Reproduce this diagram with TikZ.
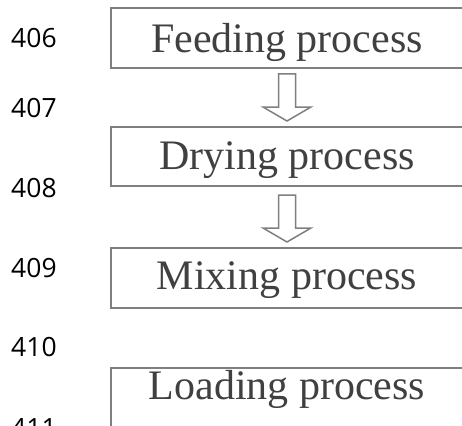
\documentclass[tikz,border=0pt]{standalone}
\usepackage{fontspec}
\setmainfont{Liberation Serif}
\newfontfamily\numfont{Open Sans}
\begin{document}
\begin{tikzpicture}[x=1pt,y=-1pt,
  stagebox/.style={draw=boxgray,line width=1.8pt,minimum width=354pt,minimum height=60pt,inner sep=0pt,anchor=north west},
  stagetext/.style={font=\fontsize{42}{42}\selectfont,text=textgray,anchor=base,inner sep=0pt},
  linenum/.style={font=\numfont\fontsize{26.5}{26.5}\selectfont,text=black,anchor=base west,inner sep=0pt},
  blockarrow/.style={draw=boxgray,line width=1.5pt,fill=white,line join=miter}]
\definecolor{boxgray}{HTML}{7F7F7F}
\definecolor{textgray}{HTML}{404040}
\useasboundingbox (0,0) rectangle (462,425);
% boxes
\node[stagebox,minimum height=60pt] (b1) at (110,7) {};
\node[stagebox,minimum height=59pt] (b2) at (110,126) {};
\node[stagebox,minimum height=60pt] (b3) at (110,247) {};
\node[stagebox,minimum height=60pt] (b4) at (110,367) {};
% texts
\node[stagetext] (t1) at (287,53) {Feeding process};
\node[stagetext] (t2) at (287,169) {Drying process};
\node[stagetext] (t3) at (287,289) {Mixing process};
\node[stagetext] (t4) at (287,399) {Loading process};
% block arrows
\coordinate (a1) at (287,74);
\coordinate (a2) at (287,195);
\foreach \c in {a1,a2}{
  \draw[blockarrow] ([xshift=-8.5pt]\c) -- ([xshift=8.5pt]\c) -- ([xshift=8.5pt,yshift=-33pt]\c)
    -- ([xshift=24pt,yshift=-33pt]\c) -- ([yshift=-47pt]\c) -- ([xshift=-24pt,yshift=-33pt]\c)
    -- ([xshift=-8.5pt,yshift=-33pt]\c) -- cycle;
}
% line numbers
\node[linenum] (n406) at (11,48) {406};
\node[linenum] (n407) at (11,117) {407};
\node[linenum] (n408) at (11,197) {408};
\node[linenum] (n409) at (11,277) {409};
\node[linenum] (n410) at (11,356) {410};
\node[linenum] (n411) at (11,437) {411};
\end{tikzpicture}
\end{document}
